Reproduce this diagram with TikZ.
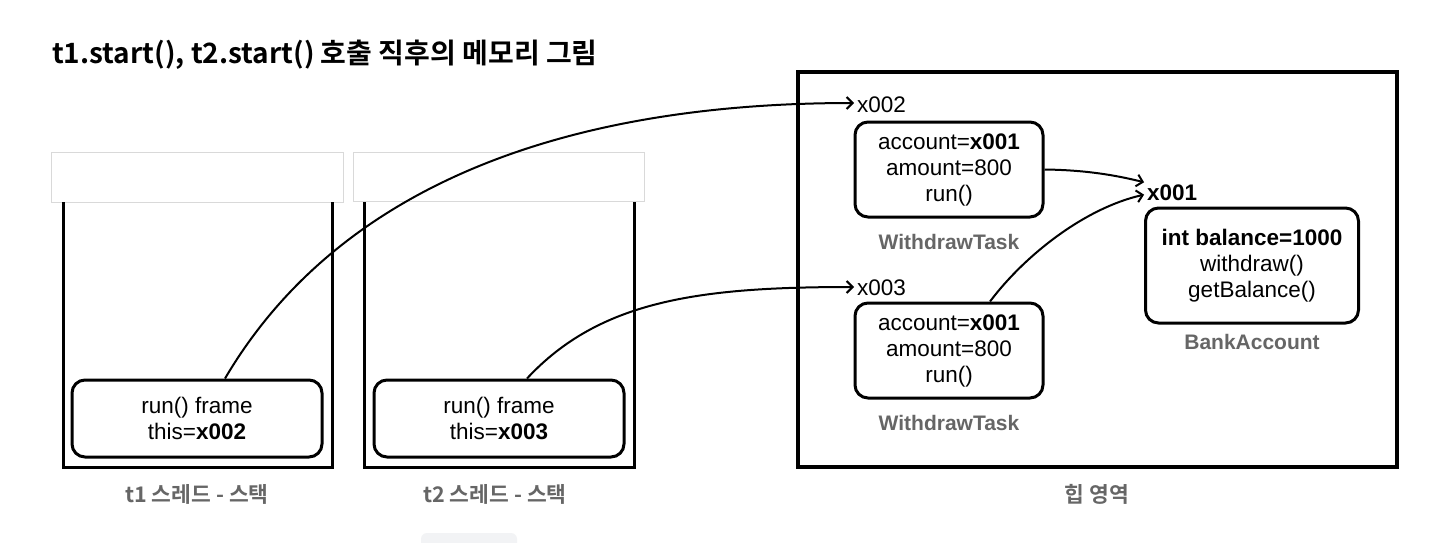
\documentclass[tikz,border=0pt]{standalone}
\usepackage{fontspec}
\setmainfont{Liberation Sans}
\newfontfamily\kr{Noto Sans CJK KR}[BoldFont={Noto Sans CJK KR Bold}]
\usetikzlibrary{arrows.meta}
\definecolor{lbl}{HTML}{666666}
\definecolor{hdr}{HTML}{D9D9D9}
\definecolor{tabc}{HTML}{F2F3F5}
\begin{document}
\begin{tikzpicture}[x=1pt,y=-1pt,
  obj/.style={draw,line width=3pt,rounded corners=13pt,align=center,inner sep=0pt,
    font=\fontsize{22.5}{26}\selectfont},
  objlbl/.style={text=lbl,inner sep=0pt,font=\fontsize{21}{24}\selectfont\bfseries},
  krlbl/.style={text=lbl,inner sep=0pt,font=\kr\fontsize{21.5}{24}\selectfont\bfseries},
  addr/.style={inner sep=0pt,anchor=west,font=\fontsize{22.5}{24}\selectfont},
  ptr/.style={line width=2pt,-{Straight Barb[length=6pt,width=12pt,line width=2pt]},shorten >=3pt},
  wall/.style={line width=3pt},
  hdrbox/.style={draw=hdr,line width=1pt},
]
\useasboundingbox[fill=white] (0,0) rectangle (1450,542);

% title
\node[anchor=base west,inner sep=0pt,font=\kr\bfseries\fontsize{28}{32}\selectfont] (title) at (52,63)
  {t1.start(), t2.start() 호출 직후의 메모리 그림};

% stacks
\draw[hdrbox] (51,152) rectangle (343,202);
\draw[hdrbox] (353,152) rectangle (644,201);
\draw[wall] (63,202) -- (63,467) -- (332,467) -- (332,202);
\draw[wall] (364,202) -- (364,467) -- (634,467) -- (634,202);

\node[obj,minimum width=250pt,minimum height=77pt] (f1) at (197,418.5) {run() frame\\this=\textbf{x002}};
\node[obj,minimum width=250pt,minimum height=77pt] (f2) at (499,418.5) {run() frame\\this=\textbf{x003}};

\node[krlbl] (s1) at (197,494) {t1 스레드 - 스택};
\node[krlbl] (s2) at (495,494) {t2 스레드 - 스택};

% heap
\draw[line width=4pt] (798,72) rectangle (1397,467);
\node[krlbl] (h) at (1097,494) {힙 영역};

\node[obj,minimum width=188pt,minimum height=95pt] (w1) at (949,169.5) {account=\textbf{x001}\\amount=800\\run()};
\node[objlbl] (w1l) at (949,242) {WithdrawTask};
\node[obj,minimum width=188pt,minimum height=95pt] (w2) at (949,350.5) {account=\textbf{x001}\\amount=800\\run()};
\node[objlbl] (w2l) at (949,423) {WithdrawTask};

\node[obj,minimum width=213pt,minimum height=115pt] (ba) at (1252,265.5) {\textbf{int balance=1000}\\withdraw()\\getBalance()};
\node[objlbl] (bal) at (1252,342) {BankAccount};

\node[addr] (x002) at (857,105) {x002};
\node[addr] (x003) at (857,288) {x003};
\node[addr,font=\fontsize{22.5}{24}\selectfont\bfseries] (x001) at (1147,193) {x001};

% pointers
\draw[ptr] ([xshift=28pt]f1.north) .. controls (330,200) and (540,103) .. ([yshift=2pt]x002.west);
\draw[ptr] ([xshift=28pt]f2.north) .. controls (600,300) and (700,287) .. ([yshift=1pt]x003.west);
\draw[ptr] ([yshift=0pt]w1.east) .. controls (1085,170) and (1115,175) .. ([yshift=10pt]x001.west);
\draw[ptr] ([xshift=41pt]w2.north) .. controls (1025,255) and (1085,208) .. ([yshift=-1pt]x001.west);

% small tab at bottom
\fill[tabc,rounded corners=6pt] (421,552) rectangle (517,533);
\end{tikzpicture}
\end{document}
